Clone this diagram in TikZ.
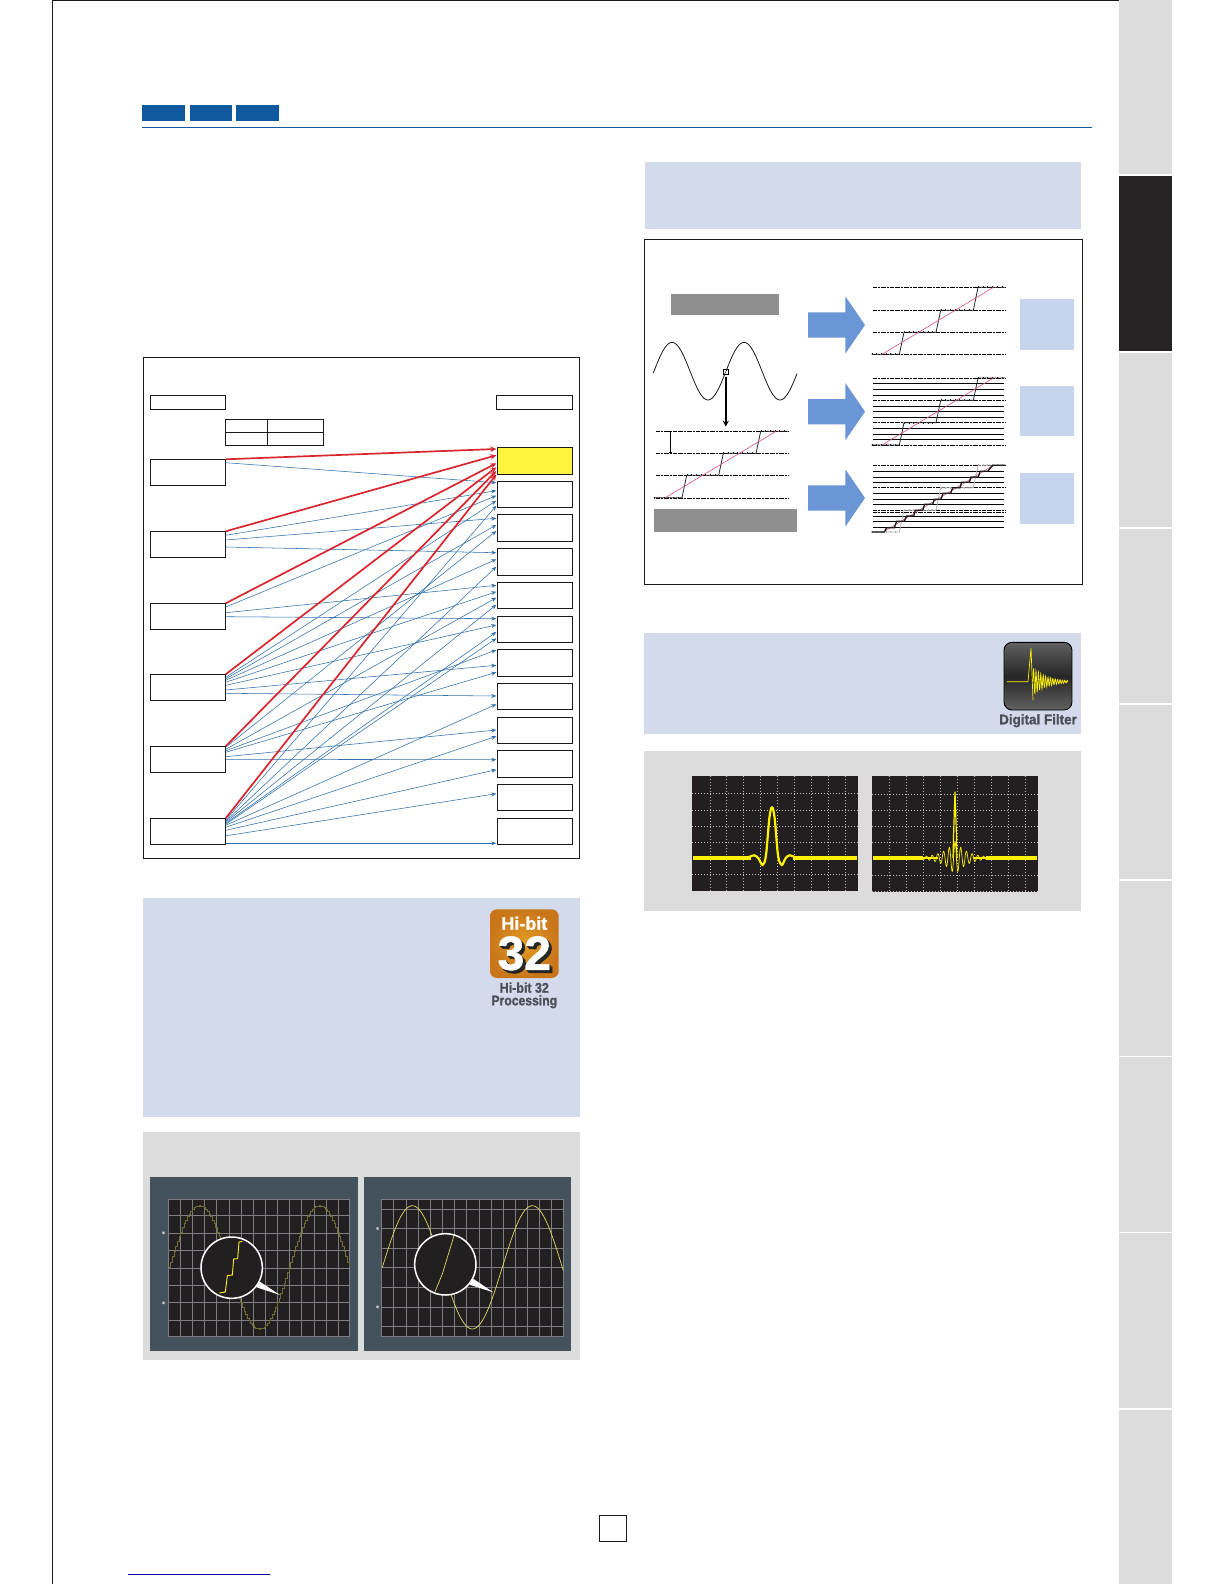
\documentclass[tikz,border=0pt]{standalone}
\usepackage{fontspec}
\setmainfont{Liberation Sans}
\newfontfamily\heavyfont{Liberation Sans}[BoldFeatures={FakeBold=1.2}]
\usetikzlibrary{arrows.meta}
\definecolor{panelblue}{HTML}{D3DAEB}
\definecolor{panelgrey}{HTML}{DCDCDC}
\definecolor{tabdark}{HTML}{262324}
\definecolor{headblue}{HTML}{0F5A9E}
\definecolor{arrowblue}{HTML}{2F70AE}
\definecolor{arrowred}{HTML}{D9252E}
\definecolor{stepgrey}{HTML}{8F8F8F}
\definecolor{bigarrow}{HTML}{6A96D6}
\definecolor{sqblue}{HTML}{C7D4EE}
\definecolor{scopedark}{HTML}{231F20}
\definecolor{scopeback}{HTML}{44525E}
\definecolor{gridgrey}{HTML}{7D7D84}
\definecolor{wave}{HTML}{FFF200}
\definecolor{logotext}{HTML}{4A5058}
\definecolor{pinkred}{HTML}{E0507A}
\definecolor{dimwave}{HTML}{6E6E30}
\definecolor{softwave}{HTML}{DEDE60}
\definecolor{orangein}{HTML}{E29C23}
\definecolor{orangeout}{HTML}{C9761A}
\tikzset{
  box/.style={draw=black!90,line width=.9pt,inner sep=0,outer sep=0,anchor=north west},
  bluearrow/.style={draw=arrowblue,line width=.55pt,-{Stealth[length=5pt,width=4pt]}},
  redarrow/.style={draw=arrowred,line width=1.7pt,-{Stealth[length=6pt,width=5.5pt]}},
  ddot/.style={line width=.6pt,dash pattern=on 2.5pt off .7pt on .7pt off .7pt},
  beads/.style={line width=2pt,dash pattern=on .9pt off 3.8pt},
  stairline/.style={line width=.8pt},
  zA/.style={shift={(140,1120)},x=.33333pt,y=-.33333pt},
  zB/.style={shift={(636,235)},x=.33333pt,y=-.33333pt},
  zC/.style={shift={(636,625)},x=.33333pt,y=-.33333pt},
  griddash/.style={draw=white!75!black,line width=.4pt,dash pattern=on 1pt off 2pt},
  logofont/.style={font=\heavyfont\bfseries\fontsize{14}{14}\selectfont,text=logotext,inner sep=0},
}
\newcommand{\stairpath}[5]{%
  \draw[stairline,#5] (707,#1)--(790,#1)--(804,#2)--(900,#2)--(914,#3)--(1012,#3)--(1026,#4)--(1108,#4);
  \draw[beads,#5] (707,#1)--(790,#1) (804,#2)--(900,#2) (914,#3)--(1012,#3) (1026,#4)--(1108,#4);
}
\begin{document}
\begin{tikzpicture}[x=1pt,y=-1pt]
\useasboundingbox (0,0) rectangle (1224,1584);
\fill[white] (0,0) rectangle (1224,1584);
% page edge
\draw[line width=1.1pt,black!90] (52.5,1584)--(52.5,.6)--(1119,.6);
% side tabs
\fill[panelgrey] (1119,0) rectangle (1172,174);
\fill[tabdark]   (1119,176) rectangle (1172,351);
\fill[panelgrey] (1119,352.5) rectangle (1172,527);
\fill[panelgrey] (1119,528.5) rectangle (1172,703);
\fill[panelgrey] (1119,704.5) rectangle (1172,879);
\fill[panelgrey] (1119,880.5) rectangle (1172,1055.5);
\fill[panelgrey] (1119,1057) rectangle (1172,1231.5);
\fill[panelgrey] (1119,1233) rectangle (1172,1408);
\fill[panelgrey] (1119,1409.5) rectangle (1172,1584);
% header
\fill[headblue] (142.4,105) rectangle (184.8,121.5);
\fill[headblue] (190,105) rectangle (232.3,121.5);
\fill[headblue] (236.4,105) rectangle (278.8,121.5);
\draw[headblue,line width=.8pt] (142.4,127.5)--(1092,127.5);

% === matrix panel ===
\draw[line width=.9pt,black!90] (143.5,357.3) rectangle (579.7,858.3);
\node[box,line width=1.3pt,minimum width=75.4pt,minimum height=13.6pt] (LH) at (150.3,395.7) {};
\node[box,line width=1.3pt,minimum width=76pt,minimum height=13.6pt] (RH) at (496.7,395.7) {};
\draw[line width=.8pt,black!90] (225.7,419.3) rectangle (323.3,445.3) (225.7,432.3)--(323.3,432.3) (267.3,419.3)--(267.3,445.3);
\foreach \nn/\yy in {1/459.3,2/531.3,3/603.3,4/674.3,5/746.3,6/818.3}
  \node[box,minimum width=75.4pt,minimum height=26pt] (L\nn) at (150.3,\yy) {};
\node[box,fill=yellow!75!white,minimum width=75.4pt,minimum height=27pt] (R1) at (497.3,447.3) {};
\foreach \nn/\yy/\hh in {2/481.3/26,3/514.3/27,4/548.3/27,5/582.3/26,6/616.3/26,7/649.3/27,8/683.3/26,9/717.3/26,10/750.3/27,11/784.3/26,12/818.3/26}
  \node[box,minimum width=75.4pt,minimum height=\hh pt] (R\nn) at (497.3,\yy) {};
\foreach \ss/\sa/\tt/\tb in {1/3.4/2/1.4,
  2/4/2/9.4,2/8.7/3/4,2/15.7/4/4.4,
  3/3.7/2/14.4,3/9.4/5/3,3/13.4/6/2.4,
  4/3/2/19.4,4/4.5/3/10.7,4/6/4/11,4/8/5/9.4,4/11/6/8.7,4/15.7/7/16,4/19/8/12.7,
  5/1/3/16.7,5/3/5/15.4,5/4.5/7/.7,5/6/7/23,5/10.4/9/12.7,5/13/10/9.4,
  6/2/2/24.4,6/3/4/18.4,6/4/5/22.4,6/5/6/15.7,6/6/6/22,6/7/8/21,6/9/9/19,6/12/10/19.4,6/17.5/11/9.4,6/25/12/25}
  \draw[bluearrow] ([yshift=-\sa pt]L\ss.north east) -- ([xshift=-1pt,yshift=-\tb pt]R\tt.north west);
\foreach \ss/\tb in {1/1.7,2/8,3/16,4/20,5/23.7,6/27.2}
  \draw[redarrow] (L\ss.north east) -- ([xshift=-1pt,yshift=-\tb pt]R1.north west);

% === quantisation panel ===
\fill[panelblue] (644.5,162) rectangle (1081,228.7);
\draw[line width=.9pt,black!90] (644.3,239.3) rectangle (1082,584.3);
\begin{scope}[zB]
  \fill[stepgrey] (105,177) rectangle (429,240);
  \fill[stepgrey] (54,822) rectangle (483,891);
  \draw[line width=.8pt,black!90] plot[domain=52:483,samples=120,smooth] (\x,{408.5-86.5*cos((\x-108)*1.66667)});
  \draw[line width=.6pt,fill=white] (262,403) rectangle (278,419);
  \draw[line width=.5pt] (266,417)--(272,405);
  \draw[line width=1.4pt,-{Stealth[length=6pt,width=6pt]}] (269.5,425)--(269.5,575);
  % left staircase
  \foreach \yy in {589,655,721,790} \draw[ddot] (60,\yy)--(457,\yy);
  \draw[line width=.6pt] (103,590)--(103,652) (99,590)--(107,590) (99,652)--(107,652);
  \begin{scope}[shift={(-652,0)}]
    \stairpath{788}{721}{655}{589}{black!85}
  \end{scope}
  \draw[pinkred,line width=.6pt] (88,788)--(420,589);
  % arrows
  \foreach \dd in {0,260,519}
    \fill[bigarrow] (516,232+\dd)--(628,232+\dd)--(628,184+\dd)--(687,270+\dd)--(628,356+\dd)--(628,308+\dd)--(516,308+\dd)--cycle;
  % squares
  \fill[sqblue] (1152,192) rectangle (1314,345);
  \fill[sqblue] (1152,453) rectangle (1314,603);
  \fill[sqblue] (1152,714) rectangle (1314,867);
  % top right staircase
  \foreach \yy in {157,226,292,358} \draw[ddot] (711,\yy)--(1108,\yy);
  \stairpath{358}{292}{226}{157}{black!85}
  \draw[pinkred,line width=.6pt] (738,358)--(1072,157);
  % middle
  \foreach \yy in {429,496,563,630} \draw[ddot] (711,\yy)--(1108,\yy);
  \foreach \yy in {446,464,481,513,530,548,580,598,613} \draw[line width=.65pt] (711,\yy)--(1104,\yy);
  \stairpath{630}{563}{496}{429}{black!85}
  \draw[pinkred,line width=.6pt] (738,630)--(1072,429);
  % bottom
  \foreach \yy in {691,758,826,832} \draw[ddot] (711,\yy)--(1108,\yy);
  \foreach \yy in {709,726,742,775,793,808,843,859,878} \draw[line width=.65pt] (711,\yy)--(1104,\yy);
  \stairpath{891}{826}{758}{691}{black!30}
  \draw[pinkred,line width=.6pt] (742,891)--(1072,691);
  \draw[line width=1.3pt,black!90] (707,891)--(745,891)--(752,878)--(775,878)--(782,859)--(805,859)--(812,843)--(833,843)--(838,826)--(860,826)--(866,808)--(890,808)--(895,793)--(915,793)--(921,775)--(944,775)--(950,758)--(972,758)--(977,742)--(1000,742)--(1005,726)--(1027,726)--(1032,709)--(1055,709)--(1070,691)--(1108,691);
\end{scope}

% === digital filter panel ===
\fill[panelblue] (644,633) rectangle (1081,733.7);
\fill[panelgrey] (644,751) rectangle (1081,911);
\draw[black,line width=.9pt,rounded corners=8pt,top color=black!62,bottom color=black!62,middle color=black!85] (1004,642.3) rectangle (1072,710);
\draw[wave,line width=.7pt] (1007,681.7)--(1028,681.7)--(1031,648)--(1033,700);
\draw[wave,line width=.7pt] plot[domain=0:35,samples=110] ({1033+\x},{681.7-14*exp(-\x/14)*sin(\x*150)});
\node[logofont,xscale=.96] (dflabel) at (1038,720.7) {Digital Filter};
\begin{scope}[zC]
  \fill[scopedark] (168,453) rectangle (666,798);
  \fill[scopedark] (708,453) rectangle (1206,800);
  \foreach \xx in {223,271,322,374,424,476,527,577,629} \draw[griddash] (\xx,453)--(\xx,798);
  \foreach \yy in {505,556,604,652,748} \draw[griddash] (168,\yy)--(666,\yy);
  \foreach \xx in {760,811,862,913,964,1015,1066,1117,1168} \draw[griddash] (\xx,453)--(\xx,800);
  \foreach \yy in {508,556,604,652,752} \draw[griddash] (708,\yy)--(1206,\yy);
  \draw[griddash] (708,799)--(1206,799);
  \draw[wave,line width=3.8pt] (171,698)--(345,698) (470,698)--(663,698);
  \draw[wave,line width=2.2pt] plot[smooth,tension=.6] coordinates {(335,698)(355,691)(368,701)(380,720)(390,690)(400,580)(408,547)(416,580)(426,690)(437,720)(448,701)(460,691)(480,698)};
  \draw[wave,line width=3.6pt] (711,699)--(860,699) (1050,699)--(1204,699);
  \draw[wave,line width=2.2pt] (860,699)--(905,699) (1010,699)--(1050,699);
  \draw[wave,line width=.7pt] plot[domain=-120:120,samples=420] ({957+\x},{699-50*exp(-abs(\x)/38)*cos(\x*21)});
  \draw[wave,line width=1.2pt] (951,699)--(953,620)--(957,500)--(961,620)--(963,699);
\end{scope}

% === Hi-bit panel ===
\fill[panelblue] (142.5,898) rectangle (580,1117);
\shade[rounded corners=7pt,inner color=orangein,outer color=orangeout] (490,909.3) rectangle (558.7,978);
\node[inner sep=0,text=white,font=\heavyfont\bfseries\fontsize{18}{18}\selectfont] (hibit) at (524.3,923.3) {Hi-bit};
\foreach \dd in {1,2,3} \node[inner sep=0,text=black!85,font=\heavyfont\bfseries\fontsize{48}{48}\selectfont] (thirtytwos\dd) at (524.3+\dd,953.3+\dd) {32};
\node[inner sep=0,text=white,font=\heavyfont\bfseries\fontsize{48}{48}\selectfont] (thirtytwo) at (524.3,953.3) {32};
\node[logofont,xscale=.89] (hb1) at (524.3,987.7) {Hi-bit 32};
\node[logofont,xscale=.87] (hb2) at (524.3,1001.7) {Processing};

% === scope pictures ===
\fill[panelgrey] (143.3,1132.3) rectangle (580,1359.6);
\fill[scopeback] (150,1177) rectangle (358,1350.5);
\fill[scopeback] (364,1177) rectangle (571,1350.5);
\begin{scope}[zA]
  \fill[scopedark] (85,238) rectangle (629,650);
  \fill[scopedark] (725,238) rectangle (1270,650);
  \draw[gridgrey,line width=.9pt] (85,238) rectangle (629,650);
  \foreach \xx in {121,158,194,230,267,303,340,376,413,449,485,522,558,594} \draw[gridgrey,line width=.9pt] (\xx,238)--(\xx,650);
  \foreach \yy in {287,340,392,445,496,548,602} \draw[gridgrey,line width=.9pt] (85,\yy)--(629,\yy);
  \draw[gridgrey,line width=.9pt] (725,238) rectangle (1270,650);
  \foreach \xx in {761,798,834,871,907,944,980,1017,1053,1090,1126,1163,1199,1235} \draw[gridgrey,line width=.9pt] (\xx,238)--(\xx,650);
  \foreach \yy in {267,325,384,442,502,562,620} \draw[gridgrey,line width=.9pt] (725,\yy)--(1270,\yy);
  \draw[dimwave,line width=.7pt] plot[const plot,domain=87:627,samples=109] (\x,{442-185*sin(\x-87)});
  \draw[softwave,line width=.7pt] plot[domain=727:1270,samples=90,smooth] (\x,{442-185*sin(\x-727)});
  % magnifiers
  \fill[white] (355,482)--(420,525)--(350,502)--cycle;
  \draw[white,line width=1.5pt,fill=scopedark] (275,443) circle (92);
  \draw[yellow!90!white,line width=.9pt] (238,519)--(256,516)--(262,467)--(277,465)--(281,417)--(293,416)--(297,366)--(307,364);
  \fill[white] (995,473)--(1060,517)--(988,494)--cycle;
  \draw[white,line width=1.5pt,fill=scopedark] (916,433) circle (92);
  \draw[softwave,line width=.7pt] (885,515)--(907,462)--(942,347);
  % axis marks
  \fill[white!80!black] (67,335) rectangle (74,342) (67,545) rectangle (74,552) (709,322) rectangle (716,329) (709,557) rectangle (716,564);
\end{scope}

% page number box and foot rule
\draw[line width=.8pt,black!90] (599,1515) rectangle (626,1541.5);
\draw[blue!60!black,line width=.7pt] (128,1574)--(270,1574);
\end{tikzpicture}
\end{document}
